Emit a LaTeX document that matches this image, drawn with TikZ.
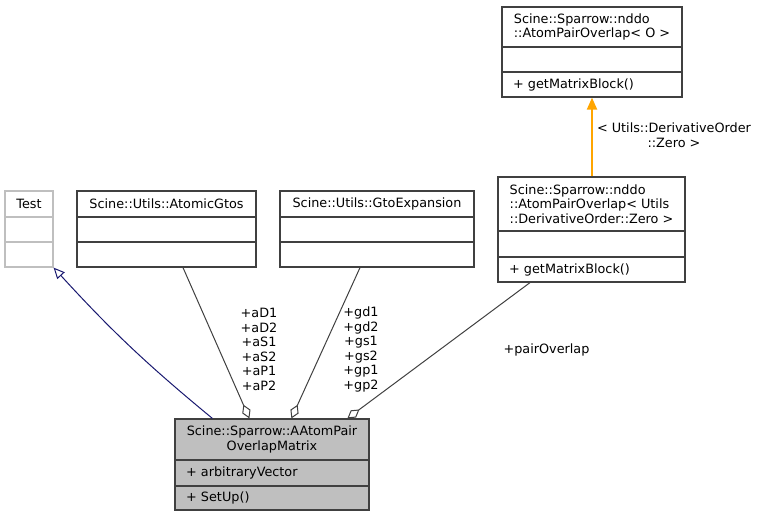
\documentclass[tikz,border=0pt]{standalone}
\usepackage{fontspec}
\setmainfont{DejaVu Sans}
\usetikzlibrary{arrows.meta}

\definecolor{rahmen}{HTML}{404040}
\definecolor{grau}{HTML}{BFBFBF}
\definecolor{erbe}{HTML}{191970}
\definecolor{vorlage}{HTML}{FFA500}

\begin{document}
\begin{tikzpicture}[
  x=1pt, y=-1pt,
  every node/.style={
    font=\fontsize{12.8}{14.6}\selectfont,
    inner sep=0pt,
  },
  kopf/.style={draw=rahmen,line width=1.2pt,rectangle,align=center},
  fach/.style={draw=rahmen,line width=1.2pt,rectangle,inner xsep=11pt,align=left},
  kante/.style={draw=rahmen,line width=1pt},
  erbt/.style={draw=erbe,line width=1pt,-{Triangle[open,length=11pt,width=10pt,fill=white]}},
  aggr/.style={kante,-{Diamond[open,length=15pt,width=9pt,fill=white]}},
  spez/.style={draw=vorlage,line width=2pt,-{Triangle[length=12pt,width=10pt]}},
]
\useasboundingbox (0,0) rectangle (759,517);

% Test
\node[kopf,draw=grau,minimum width=48pt,minimum height=26pt] at (29,204) (test) {Test};
\node[kopf,draw=grau,minimum width=48pt,minimum height=25pt] at (29,229.5) (test-attr) {};
\node[kopf,draw=grau,minimum width=48pt,minimum height=25pt] at (29,254.5) (test-ops) {};

% AtomicGtos
\node[kopf,minimum width=179pt,minimum height=26pt] at (166.5,204) (gtos) {Scine::Utils::AtomicGtos};
\node[kopf,minimum width=179pt,minimum height=25pt] at (166.5,229.5) (gtos-attr) {};
\node[kopf,minimum width=179pt,minimum height=25pt] at (166.5,254.5) (gtos-ops) {};

% GtoExpansion
\node[kopf,minimum width=194pt,minimum height=26pt] at (377,204) (gto) {Scine::Utils::GtoExpansion};
\node[kopf,minimum width=194pt,minimum height=25pt] at (377,229.5) (gto-attr) {};
\node[kopf,minimum width=194pt,minimum height=25pt] at (377,254.5) (gto-ops) {};

% AtomPairOverlap< O >
\node[kopf,align=left,minimum width=180pt,minimum height=40pt] at (592,27) (vorl) {Scine::Sparrow::nddo\\::AtomPairOverlap< O >};
\node[kopf,minimum width=180pt,minimum height=25pt] at (592,59.5) (vorl-attr) {};
\node[fach,text width=158pt,minimum height=25pt] at (592,84.5) (vorl-ops) {+ getMatrixBlock()};

% AtomPairOverlap< Utils::DerivativeOrder::Zero >
\node[kopf,align=left,minimum width=187pt,minimum height=54pt] at (591.5,204) (inst) {Scine::Sparrow::nddo\\::AtomPairOverlap< Utils\\::DerivativeOrder::Zero >};
\node[kopf,minimum width=187pt,minimum height=26pt] at (591.5,244) (inst-attr) {};
\node[fach,text width=165pt,minimum height=25pt] at (591.5,269.5) (inst-ops) {+ getMatrixBlock()};

% AAtomPairOverlapMatrix
\node[kopf,fill=grau,minimum width=194pt,minimum height=41pt] at (272,439.5) (main) {Scine::Sparrow::AAtomPair\\OverlapMatrix};
\node[fach,fill=grau,text width=172pt,minimum height=26pt] at (272,473) (main-attr) {+ arbitraryVector};
\node[fach,fill=grau,text width=172pt,minimum height=24pt] at (272,498) (main-ops) {+ SetUp()};

% Kanten
\draw[spez] (vorl-ops.south |- inst.north) -- (vorl-ops.south);
\draw[erbt] ([xshift=38pt]main.north west) to[bend left=4] (test-ops.south east);
\draw[aggr] ([xshift=16.5pt]gtos-ops.south) -- ([xshift=75pt]main.north west);
\draw[aggr] ([xshift=-17pt]gto-ops.south) -- ([xshift=117pt]main.north west);
\draw[aggr] ([xshift=-61.5pt]inst-ops.south) -- ([xshift=173pt]main.north west);

% Beschriftungen
\node[align=center] at (674,135.5) (vorl-lbl) {< Utils::DerivativeOrder\\::Zero >};
\node[align=center] at (259,349.5) (gtos-lbl) {+aD1\\+aD2\\+aS1\\+aS2\\+aP1\\+aP2};
\node[align=center] at (361,349.5) (gto-lbl) {+gd1\\+gd2\\+gs1\\+gs2\\+gp1\\+gp2};
\node at (546.5,350) (inst-lbl) {+pairOverlap};
\end{tikzpicture}
\end{document}
